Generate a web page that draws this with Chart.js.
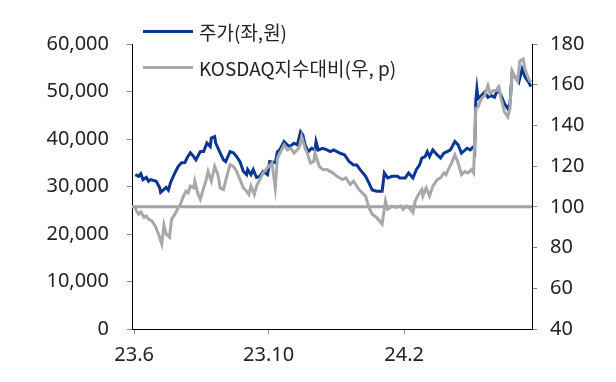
<!DOCTYPE html>
<html>
<head>
<meta charset="utf-8">
<script src="https://cdn.jsdelivr.net/npm/chart.js@4/dist/chart.umd.min.js"></script>
<style>
    body { margin: 0; background: #fff; }
    #wrap { position: relative; width: 616px; height: 382px; }
    #chart { position: absolute; left: 0; top: 0; }
    .legend { position: absolute; left: 143px; font-family: "Noto Sans CJK KR", sans-serif; font-size: 19px; color: #222; }
    .legend .row { position: absolute; left: 0; height: 24px; white-space: nowrap; display: flex; align-items: center; }
    .legend .swatch { display: inline-block; width: 50px; height: 3px; margin-right: 6px; }
</style>
</head>
<body>
<div id="wrap">
    <canvas id="chart" width="616" height="382"></canvas>
    <div class="legend">
        <div class="row" style="top:19px"><span class="swatch" style="background:#0a3694"></span>주가(좌,원)</div>
        <div class="row" style="top:55px"><span class="swatch" style="background:#a8a8a8"></span>KOSDAQ지수대비(우, p)</div>
    </div>
</div>
<script>
// x values are days counted from 2023-06-01
const tickDays = [0, 122, 245];
const tickLabels = ['23.6', '23.10', '24.2'];

// 주가 (left axis, won)
const priceDays = [1, 4, 6, 8, 11, 13, 15, 20, 23, 24, 27, 29, 31, 33, 37, 40, 43, 46, 48, 51,
    54, 56, 60, 63, 66, 69, 70, 73, 74, 78, 81, 83, 87, 90, 93, 96, 99, 102, 103, 106,
    108, 111, 114, 117, 121, 123, 128, 130, 132, 136, 139, 141, 145, 148, 151, 153, 155, 158, 161, 164,
    165, 167, 171, 175, 178, 181, 187, 191, 195, 199, 202, 205, 210, 213, 216, 220, 225, 227, 230, 234,
    239, 241, 246, 249, 253, 256, 259, 261, 264, 266, 268, 271, 275, 278, 281, 284, 287, 291, 294, 297,
    302, 305, 308, 309, 310, 311, 312, 315, 318, 321, 324, 327, 330, 333, 336, 339, 341, 343, 346, 349,
    352, 355, 358, 360];
const priceValues = [32500, 32150, 32700, 31450, 31900, 31100, 31450, 31100, 29800, 28750, 29400, 29800, 29250, 30850, 32900, 34250, 35000, 35050, 36050, 37100,
    36300, 35600, 37350, 37350, 39150, 38400, 40200, 40500, 39150, 37100, 35600, 35250, 37350, 37100, 36300, 35250, 33200, 32500, 33550, 32500,
    33550, 31900, 32150, 33200, 32500, 35250, 35000, 37350, 37700, 39450, 38750, 38400, 39100, 38750, 41500, 40850, 38750, 37350, 38050, 37700,
    39450, 37700, 38050, 37700, 37350, 37700, 37000, 36650, 35250, 34550, 34550, 33550, 32150, 30750, 29250, 29000, 29000, 32850, 31800, 32150,
    32150, 31800, 31800, 32850, 31800, 33550, 34550, 36000, 36300, 37350, 36300, 37700, 36650, 36000, 37000, 37350, 37700, 39450, 38750, 37000,
    38050, 37700, 38400, 37700, 48100, 50550, 48500, 49150, 49850, 48800, 49150, 48800, 50550, 49150, 47450, 46400, 47450, 54000, 52950, 51950,
    54700, 52950, 51950, 51050];

// KOSDAQ지수대비 (right axis, p)
const indexDays = [1, 2, 4, 6, 9, 11, 13, 16, 19, 22, 25, 27, 29, 32, 34, 37, 40, 42, 44, 47,
    49, 51, 54, 55, 58, 60, 63, 65, 67, 70, 73, 76, 78, 81, 84, 87, 90, 93, 96, 99,
    102, 104, 106, 109, 111, 114, 117, 122, 125, 128, 130, 133, 136, 139, 142, 145, 148, 150, 152, 155,
    157, 160, 163, 164, 168, 171, 175, 180, 184, 189, 192, 196, 199, 204, 207, 210, 213, 216, 220, 225,
    228, 230, 234, 238, 242, 244, 247, 250, 253, 255, 258, 261, 262, 265, 268, 271, 275, 278, 281, 283,
    285, 288, 291, 294, 297, 300, 303, 306, 308, 310, 312, 315, 318, 321, 323, 326, 329, 331, 333, 336,
    339, 341, 343, 346, 348, 350, 353, 355, 358, 360];
const indexValues = [99.7, 98.0, 96.4, 97.5, 94.8, 95.6, 94.0, 93.1, 90.7, 86.7, 81.8, 91.0, 86.7, 85.1, 94.0, 96.4, 99.7, 101.3, 104.5, 107.7,
    106.9, 110.2, 109.4, 112.6, 106.1, 103.7, 109.4, 112.6, 117.4, 112.6, 119.9, 115.8, 109.4, 108.5, 115.0, 120.7, 119.9, 117.4, 113.4, 109.4,
    107.7, 106.1, 110.2, 106.1, 110.2, 113.4, 116.7, 119.9, 121.5, 109.4, 124.0, 127.2, 130.4, 128.0, 128.8, 126.4, 128.0, 129.6, 134.5, 128.8,
    126.4, 121.5, 122.3, 126.4, 119.9, 118.3, 118.3, 116.7, 115.0, 113.4, 114.2, 111.0, 112.6, 108.5, 106.9, 105.3, 99.7, 96.4, 94.8, 91.5,
    102.9, 98.8, 100.4, 99.7, 100.4, 98.8, 100.4, 99.2, 97.2, 102.9, 106.1, 108.5, 105.3, 109.4, 105.3, 110.2, 113.4, 114.2, 116.7, 115.8,
    118.3, 121.5, 125.6, 121.5, 115.8, 117.4, 116.7, 118.3, 116.7, 148.3, 149.0, 153.1, 154.7, 159.6, 155.6, 157.2, 157.2, 158.8, 153.1, 146.6,
    144.2, 148.3, 166.9, 163.6, 162.0, 171.7, 172.6, 166.9, 162.8, 161.2];

const baseLevel = 100;

function toPoints(xs, ys) {
    return xs.map((x, i) => ({ x: x, y: ys[i] }));
}

// horizontal reference line at 100 on the right axis
const baseLinePlugin = {
    id: 'baseLine',
    beforeDatasetsDraw(chart) {
        const { ctx, chartArea, scales } = chart;
        const y = scales.y2.getPixelForValue(baseLevel);
        ctx.save();
        ctx.strokeStyle = '#a3a3a3';
        ctx.lineWidth = 3;
        ctx.beginPath();
        ctx.moveTo(chartArea.left, y);
        ctx.lineTo(chartArea.right, y);
        ctx.stroke();
        ctx.restore();
    }
};

const tickFont = { family: '"Noto Sans", sans-serif', size: 20 };

new Chart(document.getElementById('chart'), {
    type: 'line',
    data: {
        datasets: [{
            label: '주가(좌,원)',
            data: toPoints(priceDays, priceValues),
            borderColor: '#0a3694',
            borderWidth: 3,
            pointRadius: 0,
            yAxisID: 'y',
            order: 2
        }, {
            label: 'KOSDAQ지수대비(우, p)',
            data: toPoints(indexDays, indexValues),
            borderColor: '#a8a8a8',
            borderWidth: 3,
            pointRadius: 0,
            yAxisID: 'y2',
            order: 1
        }]
    },
    options: {
        responsive: false,
        animation: false,
        layout: { padding: { top: 44 } },
        plugins: { legend: { display: false }, tooltip: { enabled: false } },
        scales: {
            x: {
                type: 'linear',
                min: -2,
                max: 361,
                afterBuildTicks: (scale) => { scale.ticks = tickDays.map(v => ({ value: v })); },
                afterFit: (scale) => { scale.height = 53; },
                ticks: {
                    font: tickFont,
                    color: '#222',
                    padding: 9,
                    maxRotation: 0,
                    callback: (v) => tickLabels[tickDays.indexOf(v)]
                },
                grid: { drawOnChartArea: false, tickLength: 5, tickColor: '#888' },
                border: { color: '#000', width: 1 }
            },
            y: {
                position: 'left',
                min: 0,
                max: 60000,
                afterFit: (scale) => { scale.width = 132; },
                ticks: {
                    stepSize: 10000,
                    font: tickFont,
                    color: '#222',
                    padding: 18,
                    callback: (v) => v.toLocaleString('en-US')
                },
                grid: { drawOnChartArea: false, tickLength: 5, tickColor: '#888' },
                border: { color: '#000', width: 1 }
            },
            y2: {
                position: 'right',
                min: 40,
                max: 180,
                afterFit: (scale) => { scale.width = 84; },
                ticks: {
                    stepSize: 20,
                    font: tickFont,
                    color: '#222',
                    padding: 13
                },
                grid: { drawOnChartArea: false, tickLength: 5, tickColor: '#888' },
                border: { color: '#000', width: 1 }
            }
        }
    },
    plugins: [baseLinePlugin]
});
</script>
</body>
</html>
